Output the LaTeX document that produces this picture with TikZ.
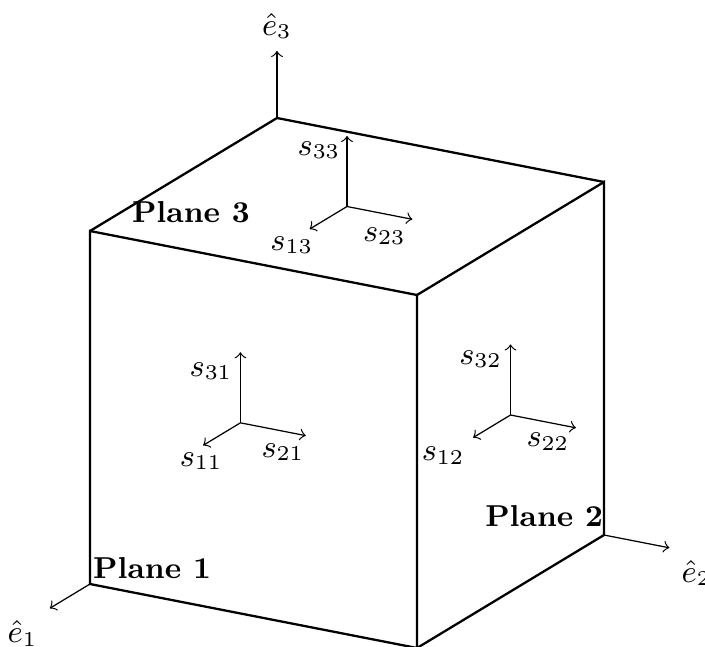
\documentclass[tikz,border=0pt]{standalone}
\usepackage{amsmath,amssymb}
\usepackage{tikz}

\begin{document}
\begin{tikzpicture}[
    x={(-1.87cm,-1.13cm)}, y={(3.27cm,-0.64cm)}, z={(0cm,3.53cm)},
    every node/.style={font=\fontsize{8.6}{10}\selectfont},
    edge/.style={line width=0.65pt},
    axis/.style={->, line width=0.35pt},
    stress/.style={->, line width=0.35pt},
    planelabel/.style={font=\fontsize{8.6}{10}\selectfont\bfseries},
  ]
    \useasboundingbox (-2.77cm,-1.75cm) rectangle (4.28cm,4.71cm);

    % corners of the cube
    \coordinate (A) at (1,0,0);
    \coordinate (B) at (1,1,0);
    \coordinate (C) at (0,1,0);
    \coordinate (D) at (1,0,1);
    \coordinate (E) at (1,1,1);
    \coordinate (F) at (0,1,1);
    \coordinate (G) at (0,0,1);

    % visible edges
    \draw[edge] (A) -- (B) -- (E) -- (D) -- cycle;
    \draw[edge] (B) -- (C) -- (F) -- (E);
    \draw[edge] (D) -- (G) -- (F);

    % base vectors
    \draw[axis] (A) -- ++(0.215,0,0) node[below left] {$\hat{e}_1$};
    \draw[axis] (C) -- ++(0,0.2,0) node[below right] {$\hat{e}_2$};
    \draw[axis] (G) -- ++(0,0,0.19) node[above] {$\hat{e}_3$};

    % Plane 1
    \coordinate (p1) at (1,0.46,0.54);
    \draw[stress] (p1) -- ++(0.2,0,0);
    \draw[stress] (p1) -- ++(0,0.2,0);
    \draw[stress] (p1) -- ++(0,0,0.2);
    \node (s11) at (1,0.34,0.41) {$s_{11}$};
    \node (s21) at (1,0.59,0.48) {$s_{21}$};
    \node (s31) at (1,0.37,0.67) {$s_{31}$};
    \node[planelabel] (pl1) at (1,0.19,0.08) {Plane 1};

    % Plane 2
    \coordinate (p2) at (0.5,1,0.5);
    \draw[stress] (p2) -- ++(0.2,0,0);
    \draw[stress] (p2) -- ++(0,0.2,0);
    \draw[stress] (p2) -- ++(0,0,0.2);
    \node (s12) at (0.86,1,0.50) {$s_{12}$};
    \node (s22) at (0.30,1,0.36) {$s_{22}$};
    \node (s32) at (0.66,1,0.71) {$s_{32}$};
    \node[planelabel] (pl2) at (0.32,1,0.155) {Plane 2};

    % Plane 3
    \coordinate (p3) at (0.5,0.5,1);
    \draw[stress] (p3) -- ++(0.2,0,0);
    \draw[stress] (p3) -- ++(0,0.2,0);
    \draw[stress] (p3) -- ++(0,0,0.2);
    \node (s13) at (0.83,0.52,1) {$s_{13}$};
    \node (s23) at (0.65,0.70,1) {$s_{23}$};
    \node (s33) at (0.16,0.22,1) {$s_{33}$};
    \node[planelabel] (pl3) at (0.74,0.16,1) {Plane 3};
\end{tikzpicture}
\end{document}
